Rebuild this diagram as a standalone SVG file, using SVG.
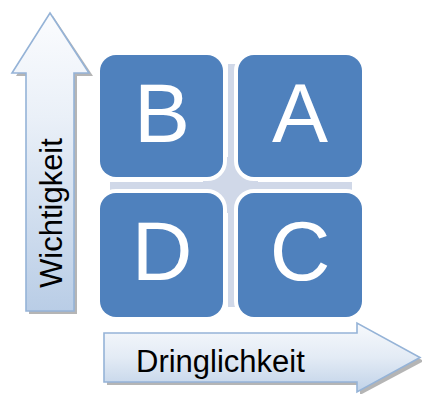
<svg xmlns="http://www.w3.org/2000/svg" width="422" height="394" viewBox="0 0 422 394">
<defs>
<linearGradient id="gv" x1="0" y1="0" x2="0" y2="1">
<stop offset="0" stop-color="#fbfcfe"/>
<stop offset="0.35" stop-color="#eaf0f8"/>
<stop offset="1" stop-color="#b9cde6"/>
</linearGradient>
<linearGradient id="gh" x1="0" y1="0" x2="0" y2="1">
<stop offset="0" stop-color="#f7f9fc"/>
<stop offset="0.5" stop-color="#e3ebf5"/>
<stop offset="1" stop-color="#c0d2e8"/>
</linearGradient>
<style>
.shadow{fill:#9c9c9c;opacity:0.75}
.arrow{stroke:#95b3d7;stroke-width:1.6;stroke-linejoin:miter}
.lbl{font-family:"Liberation Sans",Arial,sans-serif;font-size:31px;fill:#000}
.box{fill:#4f81bd;stroke:#ffffff;stroke-width:8;paint-order:stroke}
.letter{font-family:"Liberation Sans",Arial,sans-serif;font-size:84px;fill:#ffffff;text-anchor:middle}
.bg{fill:#d0d8e8}
</style>
</defs>
<g id="background-cross">
<rect class="bg" x="110" y="182" width="242" height="8"/>
<rect class="bg" x="228" y="64" width="8" height="243"/>
<rect class="bg" x="203" y="157" width="55" height="56"/>
</g>
<g id="box-B"><rect class="box" x="100" y="55" width="123" height="122" rx="16"/><text class="letter" x="162" y="142">B</text></g>
<g id="box-A"><rect class="box" x="238" y="55" width="124" height="122" rx="16"/><text class="letter" x="300" y="142">A</text></g>
<g id="box-D"><rect class="box" x="100" y="193" width="123" height="124" rx="16"/><text class="letter" x="162" y="280">D</text></g>
<g id="box-C"><rect class="box" x="238" y="193" width="124" height="124" rx="16"/><text class="letter" x="300" y="280">C</text></g>
<g id="arrow-wichtigkeit">
<polygon class="shadow" points="53,16 93,76 77,76 77,314 29,314 29,76 16,76"/>
<polygon class="arrow" fill="url(#gv)" points="50,13 89,73 74,73 74,311 26,311 26,73 12,73"/>
<text class="lbl" transform="translate(62,288) rotate(-90)">Wichtigkeit</text>
</g>
<g id="arrow-dringlichkeit">
<polygon class="shadow" points="107,336 360,336 360,326 424,361 360,395 360,385 107,385"/>
<polygon class="arrow" fill="url(#gh)" points="104,333 357,333 357,323 420,357.5 357,392 357,382 104,382"/>
<text class="lbl" x="136" y="372">Dringlichkeit</text>
</g>
</svg>
